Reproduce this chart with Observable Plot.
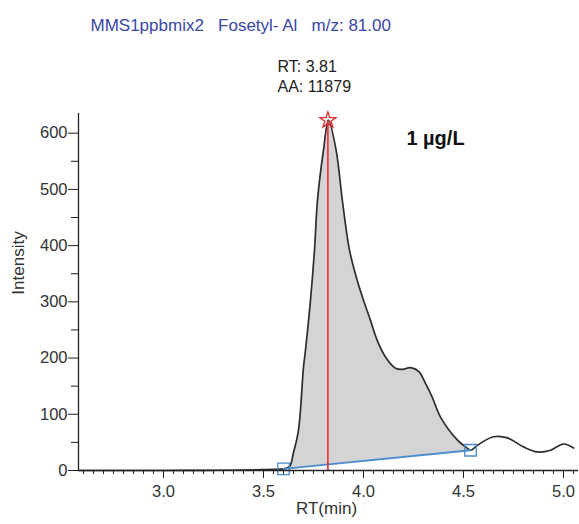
<!DOCTYPE html>
<html>
<head>
<meta charset="utf-8">
<script src="https://cdn.jsdelivr.net/npm/d3@7"></script>
<script src="https://cdn.jsdelivr.net/npm/@observablehq/plot@0.6"></script>
<style>
  html, body { margin: 0; padding: 0; background: #fff; }
  #chart svg { display: block; }
</style>
</head>
<body>
<div id="chart"></div>
<script>
// ---- Data ----
const rt = [2.58, 2.8, 3.0, 3.2, 3.4, 3.5, 3.55, 3.6, 3.63, 3.65, 3.675, 3.70, 3.71, 3.735, 3.755, 3.77, 3.80, 3.825,
  3.863, 3.894, 3.93, 3.968, 4.0, 4.035, 4.068, 4.11, 4.16, 4.195, 4.235, 4.277, 4.31, 4.343, 4.385, 4.47, 4.51, 4.535,
  4.57, 4.65, 4.72, 4.80, 4.87, 4.935, 4.995, 5.025, 5.05];
const intensity = [0, 0, 0, 0.3, 0.8, 1.5, 2, 3, 7, 32, 72, 184, 214, 303, 392, 481, 570, 623,
  570, 481, 392, 339, 303, 267, 232, 202, 182, 180, 183, 176, 155, 131, 95, 54, 42, 36,
  45, 60, 58, 42, 33, 36, 47, 45, 40];
const baseRT = [3.6, 4.535];       // integration baseline start / end
const baseInt = [3, 36];
const peakRT = 3.822;
const peakInt = 623;
const xTicks = [3.0, 3.5, 4.0, 4.5, 5.0];
const yTicks = [0, 100, 200, 300, 400, 500, 600];
const titleText = "MMS1ppbmix2\u00a0\u00a0\u00a0Fosetyl- Al\u00a0\u00a0\u00a0m/z: 81.00";
const annoLines = ["RT: 3.81", "AA: 11879"];
const concText = "1 \u00b5g/L";

const trace = rt.map((x, i) => ({x, y: intensity[i]}));
const baseAt = x => baseInt[0] + (baseInt[1] - baseInt[0]) * (x - baseRT[0]) / (baseRT[1] - baseRT[0]);
const peakArea = trace.filter(d => d.x >= baseRT[0] && d.x <= baseRT[1]).map(d => ({x: d.x, y1: baseAt(d.x), y2: d.y}));
const baseline = baseRT.map((x, i) => ({x, y: baseInt[i]}));

const xMinor = d3.range(2.6, 5.076, 0.05).map(v => +v.toFixed(2));
const yMinor = d3.range(50, 601, 100);

const FONT = "'Liberation Sans', Arial, Helvetica, sans-serif";
const X0 = 2.575, X1 = 5.075;

const plot = Plot.plot({
  width: 579,
  height: 524,
  marginLeft: 78,
  marginRight: 1,
  marginTop: 113,
  marginBottom: 54,
  style: {fontFamily: FONT, background: "#fff", overflow: "visible"},
  x: {domain: [X0, X1]},
  y: {domain: [0, 635]},
  marks: [
    // peak area fill
    Plot.areaY(peakArea, {x: "x", y1: "y1", y2: "y2", fill: "#d4d4d4", curve: "catmull-rom"}),
    // chromatogram trace
    Plot.line(trace, {x: "x", y: "y", stroke: "#2e2e2e", strokeWidth: 1.7, curve: "catmull-rom"}),
    // integration baseline
    Plot.line(baseline, {x: "x", y: "y", stroke: "#4a8ccc", strokeWidth: 1.8}),
    Plot.dot(baseline, {x: "x", y: "y", symbol: "square", r: 6.5, stroke: "#4a8ccc", strokeWidth: 1.3, fill: "none"}),
    // retention time marker
    Plot.ruleX([peakRT], {y1: 0, y2: peakInt, stroke: "#e8262c", strokeWidth: 1.5}),
    Plot.dot([{x: peakRT, y: peakInt}], {x: "x", y: "y", symbol: "star", r: 5, stroke: "#e8262c", strokeWidth: 1.3, fill: "none"}),
    // axes lines
    Plot.ruleY([0], {stroke: "#222", strokeWidth: 1.3}),
    Plot.ruleX([X0], {stroke: "#222", strokeWidth: 1.3}),
    // x axis ticks
    Plot.axisX({ticks: xMinor, tickSize: 4, text: null, stroke: "#222", label: null}),
    Plot.axisX({ticks: xTicks, tickSize: 8, tickPadding: 7, tickFormat: d3.format(".1f"), fontSize: 16.5, fill: "#333", stroke: "#222", label: null}),
    // y axis ticks
    Plot.axisY({ticks: yMinor, tickSize: 7, text: null, stroke: "#222", label: null}),
    Plot.axisY({ticks: yTicks, tickSize: 10, tickPadding: 1, fontSize: 16.5, fill: "#333", stroke: "#222", label: null}),
    // axis titles
    Plot.text(["RT(min)"], {frameAnchor: "bottom-left", dx: 248, dy: 43, textAnchor: "middle", fontSize: 17, fill: "#333"}),
    Plot.text(["Intensity"], {frameAnchor: "left", dx: -60, dy: -29, rotate: -90, textAnchor: "middle", fontSize: 17, fill: "#333"}),
    // header texts
    Plot.text([titleText], {frameAnchor: "top-left", dx: 12, dy: -95, textAnchor: "start", fontSize: 17, fill: "#3a46a6"}),
    Plot.text([annoLines[0]], {frameAnchor: "top-left", dx: 199, dy: -53, textAnchor: "start", fontSize: 16, fill: "#222"}),
    Plot.text([annoLines[1]], {frameAnchor: "top-left", dx: 199, dy: -33, textAnchor: "start", fontSize: 16, fill: "#222"}),
    Plot.text([concText], {frameAnchor: "top-left", dx: 357, dy: 17, textAnchor: "middle", fontSize: 20, fontWeight: "bold", fill: "#111"})
  ]
});
document.getElementById("chart").appendChild(plot);
</script>
</body>
</html>
